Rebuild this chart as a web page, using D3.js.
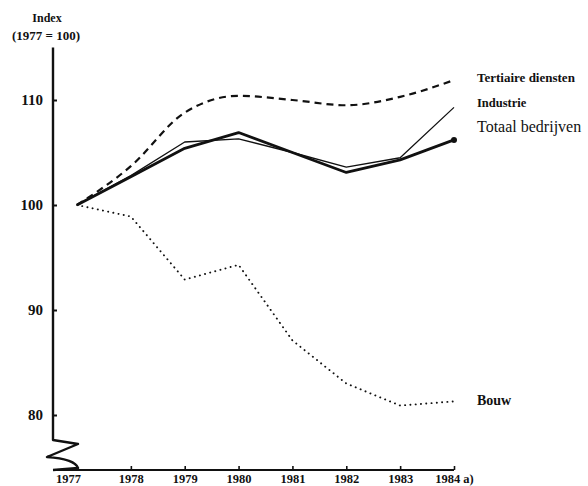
<!DOCTYPE html>
<html><head><meta charset="utf-8">
<script src="https://cdn.jsdelivr.net/npm/d3@7"></script>
<style>body{margin:0;background:#fff} svg{display:block}</style>
</head><body><div id="chart"></div>
<script>
const years = [1977,1978,1979,1980,1981,1982,1983,1984];
const yearLabels = ["1977","1978","1979","1980","1981","1982","1983","1984 a)"];
const tertiaire = [100,103.7,108.8,110.4,110.0,109.5,110.3,111.9];
const industrie = [100,102.8,106.0,106.3,105.0,103.6,104.5,109.3];
const totaal = [100,102.7,105.4,106.9,105.0,103.1,104.3,106.2];
const bouw = [100,98.9,92.9,94.3,87.1,83.0,80.9,81.3];
const yTicks = [80,90,100,110];
const seriesNames = ["Tertiaire diensten","Industrie","Totaal bedrijven","Bouw"];
const axisTitle = ["Index","(1977 = 100)"];

const W = 588, H = 486;
const axisX = 53, axisBottom = 470, axisTopVal = 115;
const ink = "#111";
const serif = "'Liberation Serif','DejaVu Serif',serif";

const svg = d3.select("#chart").append("svg").attr("width", W).attr("height", H)
  .style("background", "#fff");

const x = d3.scaleLinear().domain([1977,1984]).range([77,454]);
const y = d3.scaleLinear().domain([80,110]).range([415,100]);

// Y axis line with break (zigzag) at bottom
const breakTop = 440;
const yAxisPath = d3.path();
yAxisPath.moveTo(axisX, y(axisTopVal));
yAxisPath.lineTo(axisX, breakTop);
yAxisPath.lineTo(axisX + 25, breakTop + 4);
yAxisPath.lineTo(axisX - 6, breakTop + 17);
yAxisPath.quadraticCurveTo(axisX + 22, breakTop + 19, axisX + 25, axisBottom - 2);
yAxisPath.lineTo(axisX, axisBottom);
svg.append("path").attr("d", yAxisPath.toString())
  .attr("fill", "none").attr("stroke", ink).attr("stroke-width", 2.4)
  .attr("stroke-linejoin", "round");

// X axis baseline
svg.append("line").attr("x1", axisX).attr("x2", x(1984))
  .attr("y1", axisBottom).attr("y2", axisBottom)
  .attr("stroke", ink).attr("stroke-width", 2.2);

// Y axis ticks and labels
const yAxis = d3.axisLeft(y).tickValues(yTicks).tickSize(-4).tickPadding(10)
  .tickFormat(d3.format("d"));
const gy = svg.append("g").attr("transform", `translate(${axisX},0)`).call(yAxis);
gy.select(".domain").remove();
gy.selectAll(".tick line").attr("stroke", ink).attr("stroke-width", 2);
gy.selectAll(".tick text").attr("font-family", serif).attr("font-size", 15)
  .attr("font-weight", "bold").attr("fill", ink);

// X axis ticks and labels
const xAxis = d3.axisBottom(x).tickValues(years).tickSize(-4).tickPadding(4)
  .tickFormat((d, i) => yearLabels[i]);
const gx = svg.append("g").attr("transform", `translate(0,${axisBottom})`).call(xAxis);
gx.select(".domain").remove();
gx.selectAll(".tick line").attr("stroke", ink).attr("stroke-width", 1.6)
  .filter(d => d === 1977).remove();
gx.selectAll(".tick text").attr("font-family", serif).attr("font-size", 12.5)
  .attr("font-weight", "bold").attr("fill", ink)
  .attr("dx", d => d === 1977 ? -9 : 0);

// Axis title
svg.append("text").attr("x", 47).attr("y", 22).attr("text-anchor", "middle")
  .attr("font-family", serif).attr("font-size", 12).attr("font-weight", "bold")
  .attr("fill", ink).text(axisTitle[0]);
svg.append("text").attr("x", 46).attr("y", 40).attr("text-anchor", "middle")
  .attr("font-family", serif).attr("font-size", 13).attr("font-weight", "bold")
  .attr("fill", ink).attr("xml:space", "preserve").text(axisTitle[1]);

// Lines
const line = (curve) => d3.line().x((d, i) => x(years[i])).y(d => y(d)).curve(curve);

svg.append("path").datum(bouw).attr("d", line(d3.curveLinear))
  .attr("fill", "none").attr("stroke", ink).attr("stroke-width", 1.9)
  .attr("stroke-dasharray", "0.1,5.2").attr("stroke-linecap", "round");

svg.append("path").datum(tertiaire).attr("d", line(d3.curveMonotoneX))
  .attr("fill", "none").attr("stroke", ink).attr("stroke-width", 2.2)
  .attr("stroke-dasharray", "7,5");

svg.append("path").datum(industrie).attr("d", line(d3.curveLinear))
  .attr("fill", "none").attr("stroke", ink).attr("stroke-width", 1.3)
  .attr("stroke-linejoin", "round");

svg.append("path").datum(totaal).attr("d", line(d3.curveLinear))
  .attr("fill", "none").attr("stroke", ink).attr("stroke-width", 2.8)
  .attr("stroke-linejoin", "round");

svg.append("circle").attr("cx", x(1984)).attr("cy", y(totaal[7])).attr("r", 3)
  .attr("fill", ink);

// Series labels
const labelX = x(1984) + 23;
const labelSpecs = [
  {name: seriesNames[0], v: tertiaire[7], dy: 1.5, size: 13, weight: "bold"},
  {name: seriesNames[1], v: industrie[7], dy: -0.5, size: 12.5, weight: "bold"},
  {name: seriesNames[2], v: totaal[7], dy: -8, size: 16, weight: "normal"},
  {name: seriesNames[3], v: bouw[7], dy: 4, size: 14, weight: "bold"}
];
svg.selectAll(".slabel").data(labelSpecs).enter().append("text")
  .attr("class", "slabel")
  .attr("x", labelX).attr("y", d => y(d.v) + d.dy)
  .attr("font-family", serif).attr("font-size", d => d.size)
  .attr("font-weight", d => d.weight).attr("fill", ink)
  .text(d => d.name);
</script>
</body></html>
